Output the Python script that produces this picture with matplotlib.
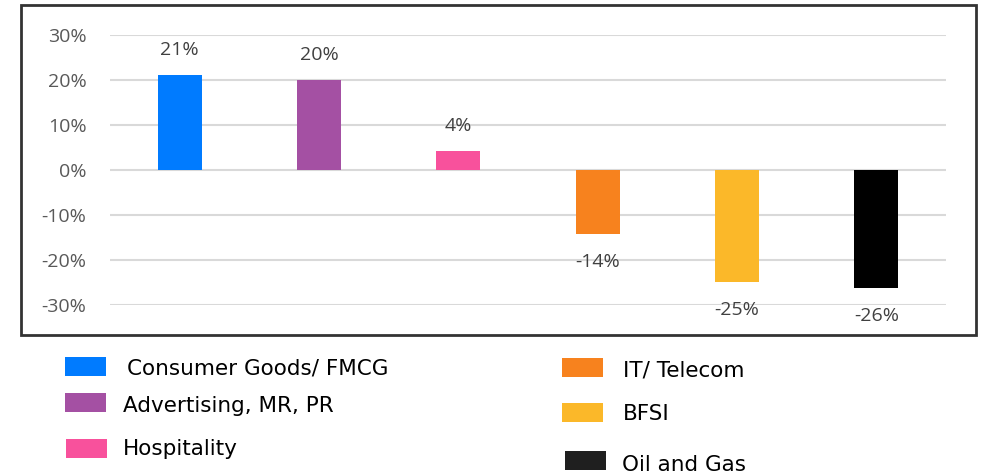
import matplotlib.pyplot as plt
from matplotlib.patches import Rectangle
from matplotlib.ticker import PercentFormatter

plt.rcParams["axes.unicode_minus"] = False

# data
categories = ["Consumer Goods/ FMCG", "Advertising, MR, PR", "Hospitality",
              "IT/ Telecom", "BFSI", "Oil and Gas"]
values = [0.211, 0.20, 0.042, -0.143, -0.248, -0.263]
labels = ["21%", "20%", "4%", "-14%", "-25%", "-26%"]
colors = ["#007BFF", "#A450A3", "#F8519C", "#F7821E", "#FBB829", "#000000"]
legend_colors = ["#007BFF", "#A450A3", "#F8519C", "#F7821E", "#FBB829", "#1F1F1F"]
yticks = [-0.3, -0.2, -0.1, 0.0, 0.1, 0.2, 0.3]

W, H = 982, 475
fig = plt.figure(figsize=(W / 100, H / 100), dpi=100)

# axes placed in pixel terms
ax = fig.add_axes([110 / W, (H - 305) / H, 836 / W, 270 / H])
x = list(range(len(categories)))
ax.bar(x, values, width=0.316, color=colors, zorder=3)
ax.set_xlim(-0.5, len(categories) - 0.5)
ax.set_ylim(-0.3, 0.3)
ax.set_yticks(yticks)
ax.yaxis.set_major_formatter(PercentFormatter(1.0, decimals=0))
ax.set_xticks([])
ax.grid(axis="y", color="#d9d9d9", linewidth=1.5, zorder=0)
for s in ax.spines.values():
    s.set_visible(False)
ax.tick_params(axis="y", length=0, pad=17, labelsize=14, labelcolor="#595959")
for t in ax.get_yticklabels():
    t.set_family(["Open Sans", "DejaVu Sans"])

# value labels
for xi, v, lab in zip(x, values, labels):
    off = 25 if v > 0 else -28
    ax.annotate(lab, (xi, v), xytext=(0, off), textcoords="offset pixels",
                ha="center", va="center", fontsize=14, color="#404040",
                family=["Open Sans", "DejaVu Sans"], annotation_clip=False)

# outer frame
fig.add_artist(Rectangle((21 / W, 1 - 335 / H), 955 / W, 330 / H,
                         transform=fig.transFigure, fill=False,
                         edgecolor="#333333", linewidth=2))

# hand-placed legend (rows are unevenly spaced in the original)
sq_x = [65, 65, 66, 562, 562, 565]
sq_top = [357, 393, 439, 358, 403, 451]
tx_x = [127, 123, 123, 623, 623, 622]
tx_base = [375, 412, 455, 377, 420, 471]
for i, name in enumerate(categories):
    fig.add_artist(Rectangle((sq_x[i] / W, 1 - (sq_top[i] + 19) / H), 41 / W, 19 / H,
                             transform=fig.transFigure, color=legend_colors[i],
                             linewidth=0))
    fig.text(tx_x[i] / W, 1 - tx_base[i] / H, name, ha="left", va="baseline",
             fontsize=15.5, color="#000000", family="DejaVu Sans")

fig.savefig("out.png", dpi=100)
